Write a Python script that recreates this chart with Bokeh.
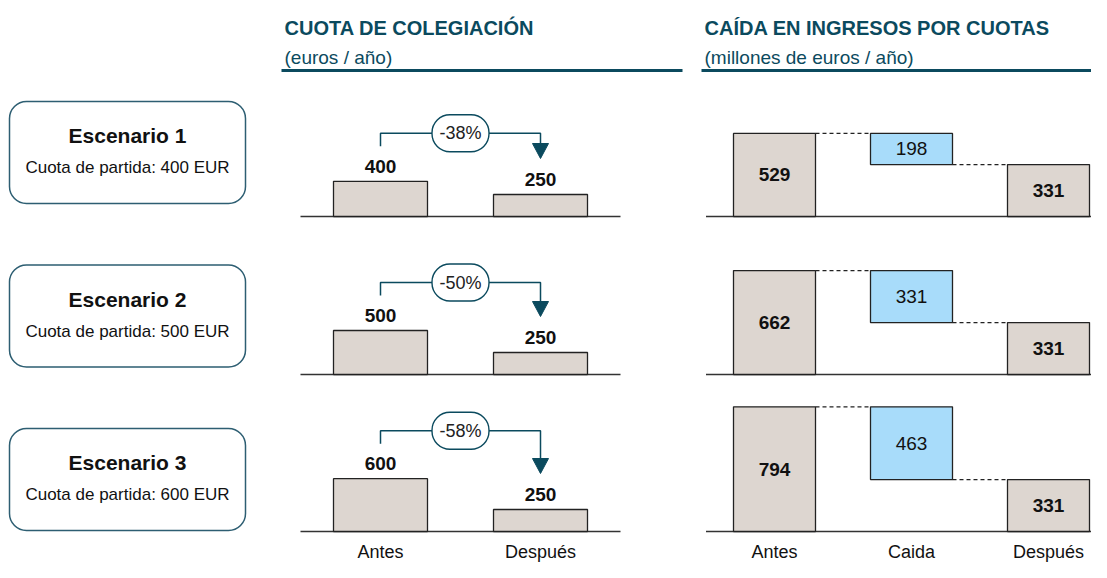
from bokeh.plotting import figure
from bokeh.layouts import column, row
from bokeh.models import Range1d
from bokeh.core.properties import value
from bokeh.embed import file_html
from bokeh.resources import INLINE

# ---------------- data ----------------
scenarios = ["Escenario 1", "Escenario 2", "Escenario 3"]
scenario_notes = ["Cuota de partida: 400 EUR", "Cuota de partida: 500 EUR", "Cuota de partida: 600 EUR"]
cuota_antes = [400, 500, 600]
cuota_despues = [250, 250, 250]
cuota_cambio = ["-38%", "-50%", "-58%"]
ingresos_antes = [529, 662, 794]
ingresos_caida = [198, 331, 463]
ingresos_despues = [331, 331, 331]
mid_categories = ["Antes", "Después"]
right_categories = ["Antes", "Caida", "Después"]
title_left = "CUOTA DE COLEGIACIÓN"
sub_left = "(euros / año)"
title_right = "CAÍDA EN INGRESOS POR CUOTAS"
sub_right = "(millones de euros / año)"

# ---------------- style ----------------
FONT = value("Liberation Sans")
TEAL = "#0B4A5E"
BOX_EDGE = "#2D5E72"
TAUPE = "#DDD6D0"
BLUE = "#A8DCFA"
EDGE = "#222222"
W_LEFT, W_MID, W_RIGHT = 260, 440, 391
H_HEAD = 78
ROW_H = [158, 157, 169]
BASE_TOP = 138          # px from top of each row to its baseline
K_MID = 0.088           # px per euro
K_R = 0.157             # px per million
PXX_MID = 160.0         # px per category step (middle)
PXX_R = 137.0           # px per category step (right)


def base_fig(w, h, xr, yr):
    p = figure(width=w, height=h, x_range=xr, y_range=yr, output_backend="svg",
               toolbar_location=None, x_axis_type=None, y_axis_type=None,
               min_border=0, outline_line_color=None)
    p.grid.visible = False
    return p


# ---------------- header ----------------
total_w = W_LEFT + W_MID + W_RIGHT
head = base_fig(total_w, H_HEAD, Range1d(0, total_w), Range1d(H_HEAD, 0))
for x0, x1, t, s in [(284, 682, title_left, sub_left), (704, 1101, title_right, sub_right)]:
    head.text(x=[x0], y=[27], text=[t], text_font=FONT, text_font_size="20px",
              text_font_style="bold", text_color=TEAL, text_baseline="middle", text_align="left")
    head.text(x=[x0], y=[57], text=[s], text_font=FONT, text_font_size="19px",
              text_color=TEAL, text_baseline="middle", text_align="left")
    head.segment(x0=[x0 - 3], x1=[x1], y0=[70], y1=[70], line_color=TEAL, line_width=3)

# ---------------- left scenario boxes ----------------
left_h = sum(ROW_H)
left = base_fig(W_LEFT, left_h, Range1d(0, W_LEFT), Range1d(left_h, 0))
for i, (name, note) in enumerate(zip(scenarios, scenario_notes)):
    cy = 74 + i * 163.5
    left.quad(left=[9], right=[245], top=[cy - 51], bottom=[cy + 51], border_radius=17,
              fill_color="white", line_color=BOX_EDGE, line_width=1.5)
    left.text(x=[127], y=[cy - 17], text=[name], text_font=FONT, text_font_size="21px",
              text_font_style="bold", text_color="#111111", text_align="center", text_baseline="middle")
    left.text(x=[127], y=[cy + 15], text=[note], text_font=FONT, text_font_size="17px",
              text_color="#111111", text_align="center", text_baseline="middle")

# ---------------- middle panels ----------------
mids = []
for i in range(3):
    h = ROW_H[i]
    x0 = -120.0 / PXX_MID
    p = base_fig(W_MID, h, Range1d(x0, x0 + W_MID / PXX_MID),
                 Range1d(-(h - BASE_TOP) / K_MID, BASE_TOP / K_MID))
    vals = [cuota_antes[i], cuota_despues[i]]
    p.segment(x0=[-0.5], x1=[1.5], y0=[0], y1=[0], line_color="#333333", line_width=1.4)
    p.vbar(x=[0, 1], top=vals, bottom=0, width=94 / PXX_MID, fill_color=TAUPE,
           line_color=EDGE, line_width=1.3)
    p.text(x=[0, 1], y=[v + 15 / K_MID for v in vals], text=[str(v) for v in vals],
           text_font=FONT, text_font_size="19px", text_font_style="bold", text_color="#111111",
           text_align="center", text_baseline="middle")
    conn = vals[0] + 48 / K_MID
    tip = vals[1] + 36 / K_MID
    tri_top = tip + 15 / K_MID
    p.line(x=[0, 0, 1, 1], y=[vals[0] + 35 / K_MID, conn, conn, tri_top],
           line_color=TEAL, line_width=1.5)
    hw = 8 / PXX_MID
    p.patch(x=[1 - hw, 1 + hw, 1], y=[tri_top, tri_top, tip], fill_color=TEAL, line_color=TEAL)
    pw, ph = 57 / PXX_MID, 37 / K_MID
    p.quad(left=[0.5 - pw / 2], right=[0.5 + pw / 2], top=[conn + ph / 2], bottom=[conn - ph / 2],
           border_radius=18, fill_color="white", line_color=TEAL, line_width=1.4)
    p.text(x=[0.5], y=[conn], text=[cuota_cambio[i]], text_font=FONT, text_font_size="18px",
           text_color="#222222", text_align="center", text_baseline="middle")
    if i == 2:
        p.text(x=[0, 1], y=[-20 / K_MID] * 2, text=mid_categories, text_font=FONT,
               text_font_size="18px", text_color="#111111", text_align="center",
               text_baseline="middle")
    mids.append(p)

# ---------------- right panels (waterfall) ----------------
rights = []
for i in range(3):
    h = ROW_H[i]
    x0 = -74.0 / PXX_R
    p = base_fig(W_RIGHT, h, Range1d(x0, x0 + W_RIGHT / PXX_R),
                 Range1d(-(h - BASE_TOP) / K_R, BASE_TOP / K_R))
    a, c, d = ingresos_antes[i], ingresos_caida[i], ingresos_despues[i]
    bw = 82 / PXX_R
    p.segment(x0=[-0.5], x1=[3.0], y0=[0], y1=[0], line_color="#333333", line_width=1.4)
    p.segment(x0=[bw / 2, 1 + bw / 2], x1=[1 - bw / 2, 2 - bw / 2], y0=[a, d], y1=[a, d],
              line_color="#222222", line_width=1.3, line_dash="4 3")
    p.vbar(x=[0, 2], top=[a, d], bottom=0, width=bw, fill_color=TAUPE,
           line_color=EDGE, line_width=1.3)
    p.vbar(x=[1], top=[d + c], bottom=[d], width=bw, fill_color=BLUE,
           line_color=EDGE, line_width=1.3)
    p.text(x=[0, 2], y=[a / 2, d / 2], text=[str(a), str(d)], text_font=FONT,
           text_font_size="19px", text_font_style="bold", text_color="#111111",
           text_align="center", text_baseline="middle")
    p.text(x=[1], y=[d + c / 2], text=[str(c)], text_font=FONT, text_font_size="19px",
           text_color="#111111", text_align="center", text_baseline="middle")
    if i == 2:
        p.text(x=[0, 1, 2], y=[-20 / K_R] * 3, text=right_categories, text_font=FONT,
               text_font_size="18px", text_color="#111111", text_align="center",
               text_baseline="middle")
    rights.append(p)

layout = column(head, row(left, column(*mids), column(*rights)))
open("out.html", "w").write(file_html(layout, INLINE))
